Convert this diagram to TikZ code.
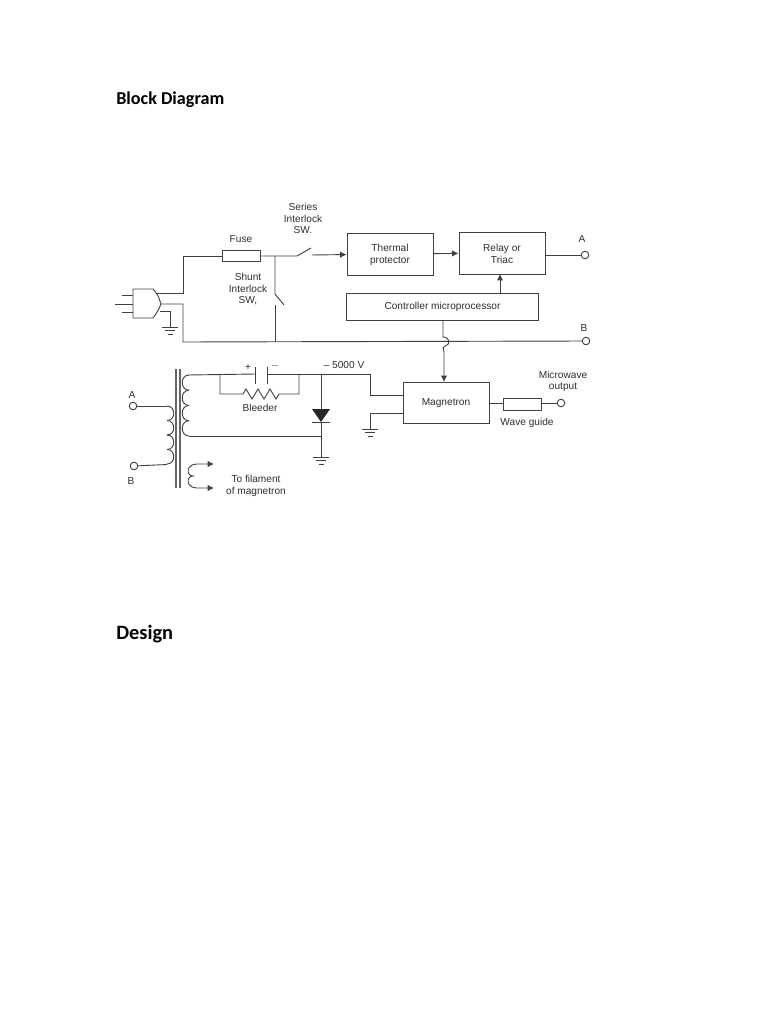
\documentclass[tikz,border=0pt]{standalone}
\usepackage{fontspec}
\setmainfont{Liberation Sans}
\newfontfamily\titlefont{Carlito}
\usetikzlibrary{arrows.meta}
\definecolor{wire}{gray}{0.25}
\tikzset{
  wireline/.style={draw=wire, line width=0.65pt},
  block/.style={wireline, fill=white, inner sep=0pt},
  lbl/.style={text=black!82, font=\fontsize{7.2}{8.2}\selectfont, align=center, inner sep=0pt, yshift=-0.5pt},
  heading/.style={anchor=west, inner sep=0pt},
  terminal/.style={circle, wireline, fill=white, minimum size=5.4pt, inner sep=0pt},
  tip/.style={-{Latex[length=4.5pt,width=4.5pt]}}
}
\newcommand{\gnd}[2]{%
  \draw[wireline] (#1-8,#2) -- (#1+8,#2);
  \draw[wireline] (#1-5,#2+3.5) -- (#1+5,#2+3.5);
  \draw[wireline] (#1-2.5,#2+7) -- (#1+2.5,#2+7);
}
\begin{document}
\begin{tikzpicture}[x=0.025cm, y=-0.025cm]
    \useasboundingbox (0,0) rectangle (768,1024);
    % Headings
    \node[heading, font=\fontsize{12.9}{15}\titlefont\bfseries] (title) at (116,100) {Block Diagram};
    \node[heading, font=\fontsize{14.5}{17}\titlefont\bfseries] (design) at (116,634) {Design};
    % Blocks
    \node[block, minimum width=2.15cm, minimum height=1.05cm] (thermal) at (390,254) {};
    \node[lbl] at (thermal) {Thermal\\protector};
    \node[block, minimum width=2.15cm, minimum height=1.05cm] (relay) at (502,253) {};
    \node[lbl] at (relay) {Relay or\\Triac};
    \node[block, minimum width=4.8cm, minimum height=0.675cm] (ctrl) at (442.5,306.5) {};
    \node[lbl] at (ctrl) {Controller microprocessor};
    \node[block, minimum width=2.15cm, minimum height=1.025cm] (magnetron) at (446,402.5) {};
    \node[lbl] at (magnetron) {Magnetron};
    % Terminals
    \node[terminal] (termA) at (585,255) {};
    \node[terminal] (termB) at (586,341) {};
    \node[terminal] (termIn) at (133,406) {};
    \node[terminal] (termOut) at (134,466) {};
    \node[terminal] (termWave) at (561,403) {};
    % Fuse and wave guide
    \node[block, minimum width=0.95cm, minimum height=0.28cm] (fuse) at (241,256) {};
    \node[block, minimum width=0.95cm, minimum height=0.3cm] (guide) at (522,404) {};
    % Mains wiring
    \coordinate (lineL) at (183,256);
    \coordinate (shuntT) at (275,256);
    \coordinate (shuntB) at (275,342);
    \coordinate (botL) at (183,342);
    \coordinate (serL) at (297,256);
    \draw[wireline] (157,293) -- (183,293) -- (lineL) -- (fuse);
    \draw[wireline] (fuse) -- (serL) -- (311,248);
    \draw[wireline, tip] (312,255) -- (thermal);
    \draw[wireline] (shuntT) -- (275,294) -- (284,305);
    \draw[wireline] (275,305) -- (shuntB);
    \draw[wireline] (161,304) -- (183,304) -- (botL) -- (termB);
    % Plug
    \draw[wireline, fill=white] (133,289) -- (153,289) .. controls (158,295) .. (161,304)
      .. controls (158,311) .. (153,318) -- (133,318) -- cycle;
    \draw[wireline] (122,295) -- (133,295);
    \draw[wireline] (115,304) -- (133,304);
    \draw[wireline] (122,312) -- (133,312);
    \draw[wireline] (160,311) -- (170,311) -- (170,327);
    \gnd{170}{327}
    % Block connectors
    \draw[wireline, tip] (thermal) -- (relay);
    \draw[wireline] (relay.east |- termA) -- (termA);
    \draw[wireline, tip] (500,293) -- (500,274);
    \draw[wireline, tip] (443,320) -- (443,337) .. controls (450,337) and (451,345) .. (445,346)
      .. controls (443,347) .. (444,352) -- (444,382);
    % Magnetron wiring
    \draw[wireline] (magnetron.west |- 0,395) -- (370,395) -- (370,374) -- (321,374);
    \draw[wireline] (magnetron.west |- 0,413) -- (370,413) -- (370,429);
    \gnd{370}{429}
    \draw[wireline] (magnetron.east |- 0,403) -- (guide.west |- 0,403);
    \draw[wireline] (guide.east |- 0,403) -- (termWave);
    % Capacitor and bleeder
    \draw[wireline] (188,375) -- (255,374);
    \draw[wireline] (255,367) -- (255,384);
    \draw[wireline] (267,367) -- (267,384);
    \draw[wireline] (267,374) -- (321,374);
    \draw[wireline] (220,374) -- (220,394) -- (243,394)
      -- ++(3,-5) -- ++(6,10) -- ++(6,-10) -- ++(6,10) -- ++(6,-10) -- ++(6,10) -- ++(3,-5) -- (299,394) -- (299,374);
    % Diode
    \coordinate (diodeT) at (321,409);
    \coordinate (diodeB) at (321,422);
    \draw[wireline] (321,374) -- (diodeT);
    \fill[black!85] (312,409) -- (330,409) -- (diodeB) -- cycle;
    \draw[wireline] (312,422) -- (330,422);
    \draw[wireline] (diodeB) -- (321,457);
    \gnd{321}{457}
    % Transformer core
    \draw[wireline, line width=0.9pt, draw=black!60] (176,369) -- (176,488);
    \draw[wireline, line width=0.9pt, draw=black!60] (180,369) -- (180,488);
    % Primary winding
    \draw[wireline] (termIn) -- (167,406);
    \foreach \y in {406,420.5,435,449.5}
      \draw[wireline] (167,\y) .. controls (176,\y) and (176,\y+14.5) .. (167,\y+14.5);
    \draw[wireline] (167,464.5) -- (termOut);
    % Secondary winding
    \foreach \y in {375,390.25,405.5,420.75}
      \draw[wireline] (189,\y) .. controls (180,\y) and (180,\y+15.25) .. (189,\y+15.25);
    \draw[wireline] (189,436) -- (321,436);
    % Filament winding
    \draw[wireline, {Latex[length=4.5pt,width=4.5pt]}-{Latex[length=4.5pt,width=4.5pt]}] (214,464) -- (197,464)
      .. controls (186,464) and (186,476) .. (193,476)
      .. controls (186,476) and (186,488) .. (197,488) -- (214,488);
    % Labels
    \node[lbl] (fuselbl) at (241,238) {Fuse};
    \node[lbl] (serieslbl) at (303,218) {Series\\Interlock\\SW.};
    \node[lbl] (shuntlbl) at (248,288.5) {Shunt\\Interlock\\SW,};
    \node[lbl] (lblA) at (582,238) {A};
    \node[lbl] (lblB) at (584,327) {B};
    \node[lbl] (lblC) at (132,394) {A};
    \node[lbl] (lblD) at (131,480) {B};
    \node[lbl] (plus) at (248,367) {+};
    \node[lbl] (minus) at (275,365) {$-$};
    \node[lbl] (bleeder) at (260,407) {Bleeder};
    \node[lbl] (volts) at (344,364) {-- 5000 V};
    \node[lbl] (filament) at (256,485) {To filament\\of magnetron};
    \node[lbl] (micro) at (563,380.5) {Microwave\\output};
    \node[lbl] (wavelbl) at (527,422) {Wave guide};
  \end{tikzpicture}
\end{document}
